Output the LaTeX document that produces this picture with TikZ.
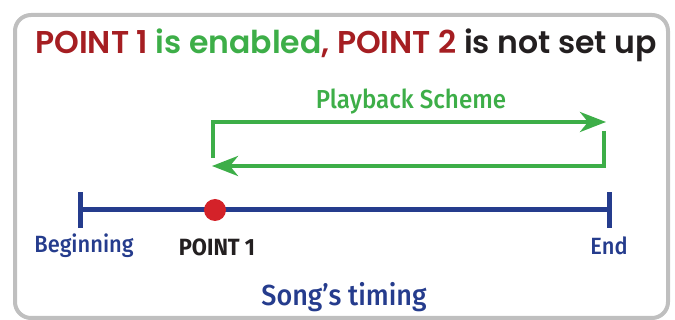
\documentclass[tikz,border=0pt]{standalone}
\usepackage{fontspec}
\setmainfont{Poppins}[BoldFont={Poppins SemiBold}]
\newfontfamily\narrowfont{Fira Sans Medium}[FakeStretch=0.93,BoldFont={Fira Sans Bold}]
\usetikzlibrary{arrows.meta,positioning}

\definecolor{titlered}{HTML}{A51E22}
\definecolor{schemegreen}{HTML}{3DAE48}
\definecolor{timeblue}{HTML}{253C8D}
\definecolor{inkblack}{HTML}{231F20}
\definecolor{dotred}{HTML}{D42229}

\begin{document}
\begin{tikzpicture}[
    x=1pt, y=-1pt,
    frame/.style={draw=gray!50, line width=4pt, rounded corners=16pt},
    timeline/.style={draw=timeblue, line width=5pt},
    tick/.style={draw=timeblue, line width=5pt},
    scheme/.style={draw=schemegreen, line width=4pt, -{Stealth[length=26pt,width=20pt,inset=8pt]}},
    lbl/.style={font=\narrowfont\fontsize{23.5}{26}\selectfont, text=timeblue, inner sep=0pt}
]
\useasboundingbox (0,0) rectangle (675,320);
\draw[frame] (15,15) rectangle (668,318);

% title
\node[font=\bfseries\fontsize{31.5}{34}\selectfont, inner sep=0pt] (title) at (346,45)
  {\textcolor{titlered}{POINT 1} \textcolor{schemegreen}{is enabled}\textcolor{titlered}{, POINT 2} \textcolor{inkblack}{is not set up}};

% playback loop
\coordinate (loopstart) at (213,158);
\coordinate (looptip) at (606,122);
\coordinate (backstart) at (604,131);
\coordinate (backtip) at (212,166);
\draw[scheme] (loopstart) |- (looptip);
\draw[scheme] (backstart) |- (backtip);
\node[font=\narrowfont\fontsize{26}{28}\selectfont, text=schemegreen, inner sep=0pt] (scheme) at (411,102) {Playback Scheme};

% song timeline
\coordinate (beg) at (80,210);
\coordinate (fin) at (609,210);
\draw[timeline] (beg) -- (fin);
\draw[tick] ([yshift=-18pt]beg) -- ([yshift=18pt]beg);
\draw[tick] ([yshift=-18pt]fin) -- ([yshift=18pt]fin);
\node[circle, fill=dotred, minimum size=22pt, inner sep=0pt] (p1) at (215,210) {};

\node[lbl] (beglbl) at (84,246) {Beginning};
\node[lbl, font=\narrowfont\bfseries\fontsize{23.5}{26}\selectfont, text=inkblack] (p1lbl) at (217,247) {POINT 1};
\node[lbl] (finlbl) at (609,246) {End};
\node[lbl, font=\narrowfont\fontsize{29}{31}\selectfont] (timing) at (344,297) {Song’s timing};
\end{tikzpicture}
\end{document}
